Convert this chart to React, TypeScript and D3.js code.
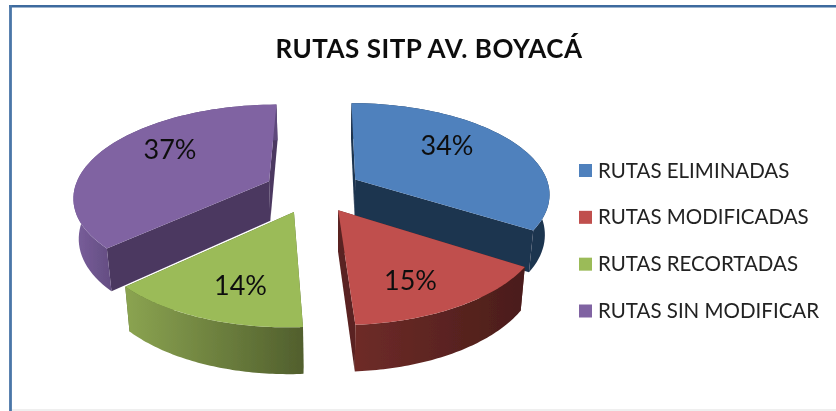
import React from 'react';
import * as d3 from 'd3';

const categories = ['RUTAS ELIMINADAS', 'RUTAS MODIFICADAS', 'RUTAS RECORTADAS', 'RUTAS SIN MODIFICAR'];
const shares = [34, 15, 14, 37];
const title = 'RUTAS SITP AV. BOYACÁ';

const topColors = ['#4f81bd', '#c0504d', '#9bbb59', '#8064a2'];
const wallColors = ['#1f344f', '#5a2320', '#55652f', '#4b3860'];
// rim gradient stops, left to right, evenly spaced
const rimColors = [
  ['#1f344f', '#1f344f'],
  ['#6e2b28', '#4a1d1a'],
  ['#8ba451', '#515f2d'],
  ['#7a5f9c', '#5c4779', '#57437a', '#5a4678', '#5e4a7c'],
];
const labelPos: [number, number][] = [[447, 146], [410.5, 281], [240.5, 286], [170, 150]];
const drawOrder = [0, 3, 2, 1];

const WIDTH = 836;
const HEIGHT = 411;

// perspective of the pie plane, fitted by eye to the picture
const cx = 313;
const cy = 190.2;
const rx = 195;
const ry = 90.7;
const skew = 2;
const persp = 0.15;
const explode = 0.25;

const project = (u: number, v: number): [number, number] => {
  const w = 1 + persp * v;
  return [cx + (rx * u + skew * v) / w, cy - (ry * v) / w];
};
// bottom edge of the pie: a bit narrower, and thicker towards the front
const lower = (p: [number, number]): [number, number] => [
  p[0] + 0.021 * (328 - p[0]),
  p[1] + 42 + 0.05 * (p[1] - 231),
];

const pie = d3.pie<number>().sort(null).startAngle(0).endAngle(2 * Math.PI);
const line = d3.line();

const slices = pie(shares).map((arc, i) => {
  const mid = (arc.startAngle + arc.endAngle) / 2;
  const ou = explode * Math.sin(mid);
  const ov = explode * Math.cos(mid);
  const angles = d3.range(0, 61).map(k => arc.startAngle + ((arc.endAngle - arc.startAngle) * k) / 60);
  const rim = angles.map(a => project(ou + Math.sin(a), ov + Math.cos(a)));
  const apex = project(ou, ov);
  const first = rim[0];
  const last = rim[rim.length - 1];
  const xs = d3.extent(rim, p => p[0]) as [number, number];
  return {
    i,
    top: line([apex, ...rim])! + 'Z',
    rimWall: line([...rim, ...rim.map(lower).reverse()])! + 'Z',
    startWall: line([apex, first, lower(first), lower(apex)])! + 'Z',
    endWall: line([apex, last, lower(last), lower(apex)])! + 'Z',
    xs,
  };
});

const legendY = d3.scalePoint<string>().domain(categories).range([170.5, 311]);

export default function App() {
  return (
    <svg
      width={WIDTH}
      height={HEIGHT}
      style={{ position: 'absolute', left: 0, top: 0, background: '#fff', fontFamily: 'Lato' }}
    >
      <defs>
        <filter id="soft" x="-5%" y="-5%" width="110%" height="110%">
          <feGaussianBlur stdDeviation="0.45" />
        </filter>
        {slices.map(s => (
          <linearGradient
            key={s.i}
            id={`rim${s.i}`}
            gradientUnits="userSpaceOnUse"
            x1={s.xs[0]}
            x2={s.xs[1]}
            y1={0}
            y2={0}
          >
            {rimColors[s.i].map((c, k, all) => (
              <stop key={k} offset={k / (all.length - 1)} stopColor={c} />
            ))}
          </linearGradient>
        ))}
      </defs>

      {/* frame: top and left only, the bottom is a pale line */}
      <line x1={9} x2={WIDTH} y1={6.2} y2={6.2} stroke="#3d6a9e" strokeWidth={2.6} />
      <line x1={10.5} x2={10.5} y1={5} y2={HEIGHT} stroke="#4a76a8" strokeWidth={2.8} />
      <line x1={12} x2={WIDTH} y1={410} y2={410} stroke="#eaeaea" strokeWidth={1.5} />

      <g filter="url(#soft)">
        <text x={429} y={58} textAnchor="middle" fontSize={26} letterSpacing={0.5} fontWeight={700} fill="#111">
          {title}
        </text>

        {drawOrder.map(i => {
          const s = slices[i];
          return (
            <g key={i}>
              <path d={s.startWall} fill={wallColors[i]} />
              <path d={s.endWall} fill={wallColors[i]} />
              <path d={s.rimWall} fill={`url(#rim${i})`} />
              <path d={s.top} fill={topColors[i]} />
            </g>
          );
        })}

        {shares.map((v, i) => (
          <text key={i} x={labelPos[i][0]} y={labelPos[i][1] + 9} textAnchor="middle" fontSize={27} fill="#111">
            {v}%
          </text>
        ))}

        {categories.map((c, i) => (
          <g key={c} transform={`translate(0,${legendY(c)})`}>
            <rect x={579} y={-6.5} width={13} height={13} fill={topColors[i]} />
            <text x={598} y={7} fontSize={20.5} fill="#222">
              {c}
            </text>
          </g>
        ))}
      </g>
    </svg>
  );
}
